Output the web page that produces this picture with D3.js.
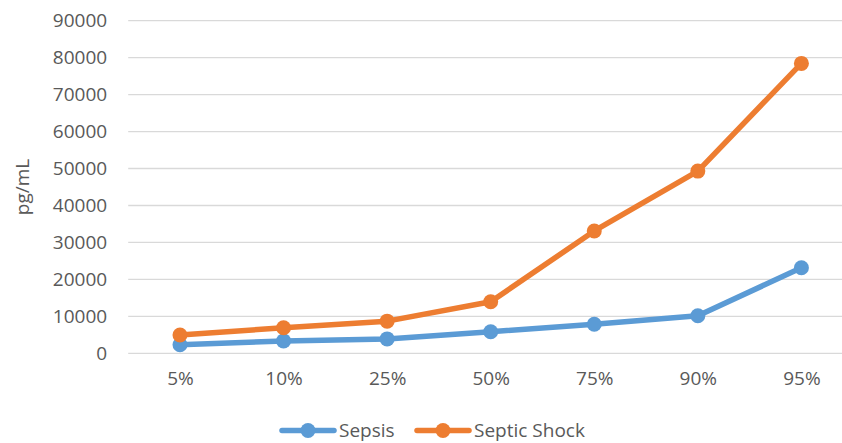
<!DOCTYPE html>
<html>
<head>
<meta charset="utf-8">
<script src="https://cdn.jsdelivr.net/npm/d3@7"></script>
<style>
  html, body { margin: 0; padding: 0; background: #fff; }
  svg { display: block; font-family: "Open Sans", sans-serif; }
</style>
</head>
<body>
<svg id="chart" width="842" height="443"></svg>
<script>
const categories = ["5%", "10%", "25%", "50%", "75%", "90%", "95%"];
const sepsis = [2300, 3350, 3900, 5850, 7850, 10150, 23150];
const septicShock = [4950, 6900, 8700, 13950, 33100, 49300, 78450];
const yTicks = [0, 10000, 20000, 30000, 40000, 50000, 60000, 70000, 80000, 90000];
const seriesNames = ["Sepsis", "Septic Shock"];
const colors = ["#5B9BD5", "#ED7D31"];

(function () {
const svg = d3.select("#chart");
const mLeft = 128.2, mRight = 853.2, mTop = 20.7, mBottom = 353.3;

const x = d3.scalePoint().domain(categories).range([mLeft, mRight]).padding(0.5);
const y = d3.scaleLinear().domain([0, 90000]).range([mBottom, mTop]);

// gridlines
svg.append("g").selectAll("line").data(yTicks).join("line")
  .attr("x1", mLeft).attr("x2", mRight)
  .attr("y1", d => y(d)).attr("y2", d => y(d))
  .attr("stroke", "#d9d9d9").attr("stroke-width", 1.3);

// y axis labels
const yAxis = d3.axisLeft(y).tickValues(yTicks).tickSize(0).tickPadding(21)
  .tickFormat(d3.format("d"));
const gy = svg.append("g").attr("transform", `translate(${mLeft},0)`).call(yAxis);
gy.select(".domain").remove();
gy.selectAll("text").attr("font-size", 19).attr("fill", "#595959")
  .attr("font-family", "Open Sans, sans-serif");

// x axis labels
const xAxis = d3.axisBottom(x).tickSize(0).tickPadding(18);
const gx = svg.append("g").attr("transform", `translate(0,${mBottom})`).call(xAxis);
gx.select(".domain").remove();
gx.selectAll("text").attr("font-size", 19).attr("fill", "#595959")
  .attr("font-family", "Open Sans, sans-serif");

// y axis title
svg.append("text")
  .attr("transform", `translate(29,${(mTop + mBottom) / 2}) rotate(-90)`)
  .attr("text-anchor", "middle")
  .attr("font-size", 19).attr("fill", "#595959")
  .text("pg/mL");

const data = [sepsis, septicShock];
const line = d3.line().x((d, i) => x(categories[i])).y(d => y(d));

data.forEach((vals, si) => {
  const g = svg.append("g");
  g.append("path").datum(vals).attr("d", line)
    .attr("fill", "none").attr("stroke", colors[si]).attr("stroke-width", 5.5)
    .attr("stroke-linejoin", "round").attr("stroke-linecap", "round");
  g.selectAll("circle").data(vals).join("circle")
    .attr("cx", (d, i) => x(categories[i])).attr("cy", d => y(d))
    .attr("r", 7.5).attr("fill", colors[si]);
});

// legend
const legendItems = [
  { x0: 282, name: seriesNames[0], color: colors[0] },
  { x0: 417, name: seriesNames[1], color: colors[1] }
];
const ly = 430.5;
const lg = svg.append("g");
legendItems.forEach(it => {
  lg.append("line").attr("x1", it.x0).attr("x2", it.x0 + 52)
    .attr("y1", ly).attr("y2", ly)
    .attr("stroke", it.color).attr("stroke-width", 5.5).attr("stroke-linecap", "round");
  lg.append("circle").attr("cx", it.x0 + 26).attr("cy", ly).attr("r", 7.5).attr("fill", it.color);
  lg.append("text").attr("x", it.x0 + 57).attr("y", ly).attr("dy", "0.33em")
    .attr("font-size", 19).attr("fill", "#595959").text(it.name);
});
})();
</script>
</body>
</html>
